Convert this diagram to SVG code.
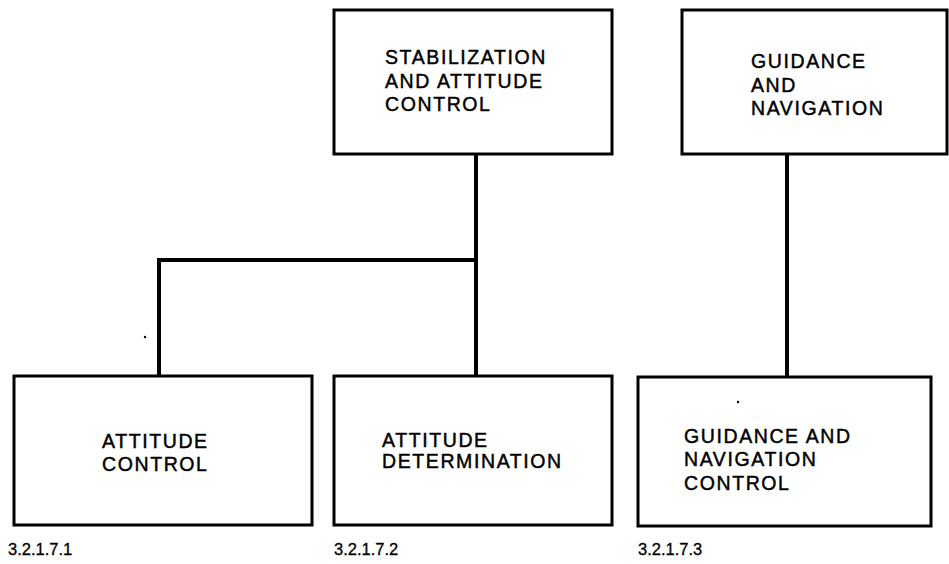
<svg xmlns="http://www.w3.org/2000/svg" width="949" height="564" viewBox="0 0 949 564">
<style>
.box{fill:#fff;stroke:#000;stroke-width:3}
.t{font-family:"Liberation Sans",Arial,sans-serif;font-size:19.5px;letter-spacing:1.6px;fill:#000;stroke:#000;stroke-width:0.45}
.lbl{font-family:"Liberation Sans",Arial,sans-serif;font-size:16.5px;fill:#000;stroke:#000;stroke-width:0.3}
.c{fill:none;stroke:#000;stroke-width:4;stroke-linecap:square}
</style>
<rect width="949" height="564" fill="#fff"/>
<g id="connectors">
<path class="c" d="M476,155 V375"/>
<path class="c" d="M159,375 V260 H476"/>
<path class="c" d="M787,155 V376"/>
</g>
<g id="stabilization">
<rect class="box" x="334" y="10" width="278" height="144"/>
<text class="t" x="385" y="64">STABILIZATION</text>
<text class="t" x="385" y="88">AND ATTITUDE</text>
<text class="t" x="385" y="111">CONTROL</text>
</g>
<g id="guidance-navigation">
<rect class="box" x="682" y="10" width="265" height="144"/>
<text class="t" x="751" y="68">GUIDANCE</text>
<text class="t" x="751" y="92">AND</text>
<text class="t" x="751" y="115">NAVIGATION</text>
</g>
<g id="attitude-control">
<rect class="box" x="14" y="376" width="298" height="149"/>
<text class="t" x="102" y="448">ATTITUDE</text>
<text class="t" x="102" y="471">CONTROL</text>
<text class="lbl" x="8" y="555">3.2.1.7.1</text>
</g>
<g id="attitude-determination">
<rect class="box" x="334" y="376" width="278" height="149"/>
<text class="t" x="382" y="447">ATTITUDE</text>
<text class="t" x="382" y="468">DETERMINATION</text>
<text class="lbl" x="334" y="555">3.2.1.7.2</text>
</g>
<g id="guidance-navigation-control">
<rect class="box" x="638" y="377" width="293" height="149"/>
<text class="t" x="684" y="443">GUIDANCE AND</text>
<text class="t" x="684" y="466">NAVIGATION</text>
<text class="t" x="684" y="490">CONTROL</text>
<text class="lbl" x="638" y="555">3.2.1.7.3</text>
</g>
<circle cx="145" cy="337" r="1.2" fill="#000"/>
<circle cx="738" cy="402" r="1.2" fill="#000"/>
</svg>
